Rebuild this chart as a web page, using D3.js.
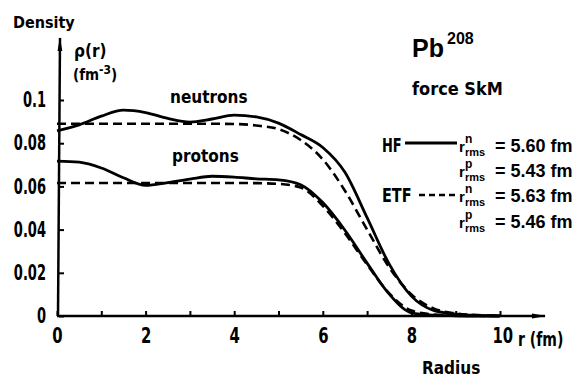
<!DOCTYPE html>
<html>
<head>
<meta charset="utf-8">
<script src="https://cdn.jsdelivr.net/npm/d3@7"></script>
<style>
  body { margin: 0; background: #fff; }
  svg { display: block; }
  .num { font-family: 'Liberation Sans Narrow', 'DejaVu Sans Condensed', sans-serif; font-weight: bold; }
  .txt { font-family: 'DejaVu Sans Condensed', 'Liberation Sans Narrow', sans-serif; font-weight: bold; }
  .leg { font-family: 'Liberation Sans', Arial, sans-serif; font-weight: bold; }
</style>
</head>
<body>
<svg id="chart" width="573" height="377"></svg>
<script>
var width = 573, height = 377;

// radius grid (fm)
var radius = [0, 0.5, 1, 1.5, 2, 2.5, 3, 3.5, 4, 4.5, 5, 5.5, 6, 6.5, 7, 7.5, 8, 8.5, 9, 9.5, 10];

// densities (fm^-3)
var neutronHF  = [0.0857, 0.0885, 0.0925, 0.0953, 0.0942, 0.0915, 0.0898, 0.0912, 0.0930, 0.0922, 0.0893,
                  0.0840, 0.0780, 0.0665, 0.0455, 0.0240, 0.0092, 0.0026, 0.0009, 0.0003, 0.0001];
var neutronETF = [0.0890, 0.0890, 0.0890, 0.0890, 0.0890, 0.0890, 0.0890, 0.0890, 0.0889, 0.0882, 0.0865,
                  0.0815, 0.0725, 0.0580, 0.0400, 0.0225, 0.0100, 0.0035, 0.0012, 0.0004, 0.0001];
var protonHF   = [0.0717, 0.0712, 0.0685, 0.0640, 0.0605, 0.0618, 0.0634, 0.0647, 0.0643, 0.0635, 0.0630,
                  0.0608, 0.0525, 0.0397, 0.0245, 0.0101, 0.0015, 0.0004, 0.0001, 0, 0];
var protonETF  = [0.0616, 0.0616, 0.0616, 0.0616, 0.0616, 0.0616, 0.0616, 0.0616, 0.0616, 0.0615, 0.0612,
                  0.0595, 0.0510, 0.0383, 0.0238, 0.0105, 0.0025, 0.0007, 0.0002, 0.0001, 0];

var xTicks = [1, 2, 3, 4, 5, 6, 7, 8, 9, 10];
var xLabels = [0, 2, 4, 6, 8, 10];
var yTicks = [0, 0.02, 0.04, 0.06, 0.08, 0.1];

var legendRows = [
  { sup: "n", value: "= 5.60 fm" },
  { sup: "p", value: "= 5.43 fm" },
  { sup: "n", value: "= 5.63 fm" },
  { sup: "p", value: "= 5.46 fm" }
];

var x = d3.scaleLinear().domain([0, 10]).range([57, 500]);
var y = d3.scaleLinear().domain([0, 0.1]).range([316, 100]);

var svg = d3.select("#chart");

// squeeze text horizontally round its own x, the original lettering is very narrow
function condense(sel, k) {
  sel.attr("transform", function() {
    var x0 = +this.getAttribute("x") || 0;
    return `translate(${x0},0) scale(${k},1) translate(${-x0},0)`;
  });
  return sel;
}

svg.append("defs").append("marker")
    .attr("id", "arrow")
    .attr("viewBox", "0 0 14 6")
    .attr("refX", 13).attr("refY", 3)
    .attr("markerWidth", 14).attr("markerHeight", 6)
    .attr("markerUnits", "userSpaceOnUse")
    .attr("orient", "auto")
  .append("path")
    .attr("d", "M0,0.6 L14,3 L0,5.4 Z")
    .attr("fill", "#000");

// axes lines with arrows
svg.append("line")
    .attr("x1", x(0)).attr("y1", y(0)).attr("x2", 545).attr("y2", y(0))
    .attr("stroke", "#000").attr("stroke-width", 2.5)
    .attr("marker-end", "url(#arrow)");
svg.append("line")
    .attr("x1", x(0) + 1).attr("y1", y(0)).attr("x2", x(0) + 3).attr("y2", 38)
    .attr("stroke", "#000").attr("stroke-width", 2.5)
    .attr("marker-end", "url(#arrow)");

var xAxis = svg.append("g")
    .attr("class", "num")
    .attr("transform", `translate(0,${y(0)})`)
    .call(d3.axisBottom(x).tickValues([0].concat(xTicks)).tickSizeInner(-5).tickSizeOuter(0).tickPadding(11)
      .tickFormat(d => xLabels.indexOf(d) >= 0 ? d : ""));
xAxis.select(".domain").remove();
xAxis.selectAll("line").attr("stroke", "#000").attr("stroke-width", 2);
condense(xAxis.selectAll("text").attr("font-size", 22).attr("fill", "#000"), 0.75);
xAxis.selectAll(".tick").filter(d => d === 10).select("text").attr("dx", 3);

var yAxis = svg.append("g")
    .attr("class", "num")
    .attr("transform", `translate(${x(0) + 2},0)`)
    .call(d3.axisLeft(y).tickValues(yTicks).tickSizeInner(-5).tickSizeOuter(0).tickPadding(13)
      .tickFormat(d => d === 0 ? "0" : d === 0.1 ? "0.1" : d.toFixed(2)));
yAxis.select(".domain").remove();
yAxis.selectAll("line").attr("stroke", "#000").attr("stroke-width", 2);
condense(yAxis.selectAll("text").attr("font-size", 21).attr("fill", "#000"), 0.69);

// curves
var line = d3.line()
    .x((d, i) => x(radius[i]))
    .y(d => y(d))
    .curve(d3.curveMonotoneX);

[neutronHF, protonHF].forEach(function(s) {
  svg.append("path").attr("d", line(s))
      .attr("fill", "none").attr("stroke", "#000").attr("stroke-width", 2.8);
});
[neutronETF, protonETF].forEach(function(s) {
  svg.append("path").attr("d", line(s))
      .attr("fill", "none").attr("stroke", "#000").attr("stroke-width", 2.6)
      .attr("stroke-dasharray", "9,5");
});

// axis titles
svg.append("text").attr("class", "txt").attr("x", 13).attr("y", 28).attr("font-size", 16).text("Density");
svg.append("text").attr("class", "txt").attr("x", 74).attr("y", 57).attr("font-size", 17).text("ρ(r)");
var fm = svg.append("text").attr("class", "txt").attr("x", 73).attr("y", 80).attr("font-size", 15);
fm.append("tspan").text("(fm");
fm.append("tspan").attr("dy", -6).attr("font-size", 12).text("-3");
fm.append("tspan").attr("dy", 6).text(")");

condense(svg.append("text").attr("class", "num").attr("x", 518).attr("y", 346).attr("font-size", 20).text("r (fm)"), 0.78);
svg.append("text").attr("class", "txt").attr("x", 422).attr("y", 374).attr("font-size", 17).text("Radius");

svg.append("text").attr("class", "txt").attr("x", 170).attr("y", 103).attr("font-size", 17).text("neutrons");
svg.append("text").attr("class", "txt").attr("x", 172).attr("y", 162).attr("font-size", 17).text("protons");

// nucleus and force
svg.append("text").attr("class", "leg").attr("x", 412).attr("y", 57).attr("font-size", 25).text("Pb");
svg.append("text").attr("class", "leg").attr("x", 447).attr("y", 44).attr("font-size", 16).text("208");
svg.append("text").attr("class", "txt").attr("x", 412).attr("y", 95).attr("font-size", 18).text("force SkM");

// legend
var rowY = [152, 177, 202, 228];
condense(svg.append("text").attr("class", "num").attr("x", 382).attr("y", rowY[0]).attr("font-size", 20).text("HF"), 0.72);
svg.append("line").attr("x1", 405).attr("x2", 457).attr("y1", 143).attr("y2", 143)
    .attr("stroke", "#000").attr("stroke-width", 2.8);
condense(svg.append("text").attr("class", "num").attr("x", 382).attr("y", rowY[2]).attr("font-size", 20).text("ETF"), 0.8);
svg.append("line").attr("x1", 419).attr("x2", 458).attr("y1", 195).attr("y2", 195)
    .attr("stroke", "#000").attr("stroke-width", 2.6).attr("stroke-dasharray", "6,4");

var rows = svg.append("g").selectAll("g")
  .data(legendRows)
  .join("g")
    .attr("transform", (d, i) => `translate(0,${rowY[i]})`);
rows.append("text").attr("class", "leg").attr("x", 459).attr("y", 0).attr("font-size", 15).text("r");
rows.append("text").attr("class", "leg").attr("x", 465).attr("y", -9).attr("font-size", 12).text(d => d.sup);
rows.append("text").attr("class", "leg").attr("x", 465).attr("y", 4).attr("font-size", 11).text("rms");
rows.append("text").attr("class", "leg").attr("x", 495).attr("y", 0).attr("font-size", 18).text(d => d.value);
</script>
</body>
</html>
